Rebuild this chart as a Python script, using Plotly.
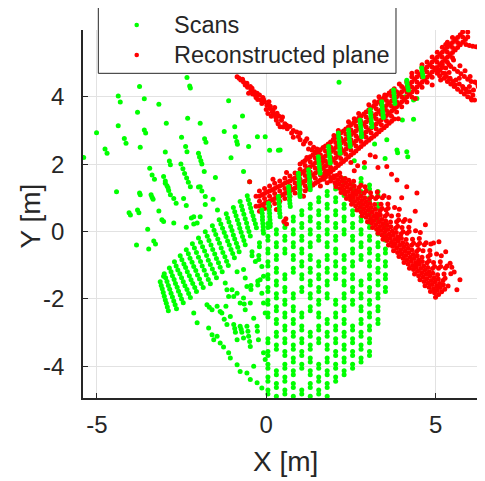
import plotly.graph_objects as go

# ---------------- axis ticks ----------------
X_TICKS = [-5, 0, 5]
X_TICK_TEXT = ["-5", "0", "5"]
Y_TICKS = [-4, -2, 0, 2, 4]
Y_TICK_TEXT = ["-4", "-2", "0", "2", "4"]
X_RANGE = [-5.41, 6.46]
Y_RANGE = [-4.94, 5.98]
LEGEND_LABELS = ["Scans", "Reconstructed plane"]

# ---------------- Scans (green) ----------------
SCAN_SPARSE = [
    (-3.74, 4.30), (-4.37, 4.02), (-4.31, 3.84), (-3.60, 3.94), (-3.17, 3.78), (-3.80, 3.54),
    (-2.26, 4.32), (-2.24, 4.26), (-1.11, 3.88), (-0.70, 3.43), (-2.32, 3.36), (-2.95, 3.21),
    (-1.95, 3.21), (-4.37, 3.14), (-5.01, 2.93), (-3.60, 3.01), (-3.56, 2.92), (-1.24, 2.97),
    (-0.93, 3.11), (-0.91, 2.81), (-0.87, 2.67), (-0.26, 2.81), (-4.19, 2.76), (-4.14, 2.62),
    (-3.72, 2.50), (-2.50, 2.80), (-2.38, 2.52), (-1.82, 2.75), (-1.78, 2.65), (-0.85, 2.59),
    (-0.52, 2.52), (-4.76, 2.45), (-4.70, 2.32), (-2.98, 2.36), (-2.34, 2.37), (0.10, 2.41),
    (0.36, 2.41), (-5.39, 2.20), (-2.00, 2.32), (-1.97, 2.21), (-1.93, 2.10), (-1.90, 2.00),
    (-2.86, 2.09), (-2.83, 1.98), (-1.04, 2.19), (-2.52, 2.00), (-2.46, 1.86), (-2.41, 1.72),
    (-2.35, 1.59), (-2.30, 1.46), (-2.24, 1.33), (-3.44, 1.88), (-3.37, 1.68), (-3.30, 1.55),
    (-3.03, 1.63), (-2.98, 1.50), (-2.93, 1.36), (-2.88, 1.22), (-2.83, 1.09), (-1.83, 1.78),
    (-0.67, 1.78), (-1.50, 1.60), (-2.00, 1.32), (-4.42, 1.18), (-3.74, 1.14), (-3.72, 1.09),
    (-3.40, 1.09), (-3.37, 1.02), (-3.34, 0.96), (-2.73, 0.98), (-2.66, 0.84), (-2.44, 0.98),
    (-2.36, 0.77), (-1.57, 0.96), (-1.80, 0.80), (-4.05, 0.56), (-4.01, 0.49), (-3.80, 0.64),
    (-3.76, 0.56), (-3.17, 0.61), (-3.03, 0.30), (-3.50, 0.07), (-2.73, 0.25), (-2.36, 0.13),
    (-2.14, 0.22), (-2.21, 0.40), (-1.95, 0.44), (-1.44, 0.64), (-3.83, -0.40), (-3.47, -0.52),
    (-3.32, -0.28), (-3.27, -0.37), (-3.03, -1.33), (-2.34, 4.57), (2.15, 4.43), (4.35, 3.90),
    (4.45, 3.95), (4.02, 3.31), (4.35, 3.33), (3.56, 2.72), (3.86, 2.42), (3.88, 2.34),
    (4.15, 2.37), (4.18, 2.22), (3.51, 2.17), (-0.03, 2.81), (0.41, 2.42), (4.10, 4.00),
    (-1.95, 1.33), (-1.90, 1.20), (-1.80, 1.04), (-2.14, 0.44), (-2.04, 0.25), (-3.08, 0.35),
    (-2.98, 1.43), (-2.90, 1.30), (-0.49, 1.48), (2.60, 2.10), (3.20, 2.60), (2.90, 1.90),
]

SCAN_BAND = [
    (-3.13, -1.49), (-3.10, -1.60), (-3.07, -1.70), (-3.04, -1.81), (-3.01, -1.92), (-2.98, -2.03), (-2.95, -2.13), (-2.92, -2.24), (-2.89, -2.35),
    (-3.01, -1.25), (-2.97, -1.37), (-2.93, -1.48), (-2.89, -1.60), (-2.85, -1.71), (-2.81, -1.83), (-2.77, -1.94), (-2.73, -2.06), (-2.69, -2.17), (-2.65, -2.29),
    (-2.86, -1.08), (-2.81, -1.19), (-2.77, -1.31), (-2.72, -1.42), (-2.68, -1.54), (-2.63, -1.65), (-2.59, -1.77), (-2.54, -1.88), (-2.50, -2.00), (-2.45, -2.11),
    (-2.71, -0.90), (-2.66, -1.02), (-2.61, -1.14), (-2.55, -1.25), (-2.50, -1.37), (-2.45, -1.49), (-2.40, -1.61), (-2.34, -1.72), (-2.29, -1.84), (-2.24, -1.96),
    (-2.54, -0.72), (-2.49, -0.84), (-2.43, -0.96), (-2.38, -1.07), (-2.33, -1.19), (-2.27, -1.31), (-2.22, -1.43), (-2.17, -1.54), (-2.11, -1.66), (-2.06, -1.78),
    (-2.36, -0.54), (-2.30, -0.66), (-2.25, -0.79), (-2.19, -0.91), (-2.14, -1.04), (-2.08, -1.16), (-2.03, -1.29), (-1.97, -1.41), (-1.92, -1.54), (-1.86, -1.66),
    (-2.18, -0.36), (-2.12, -0.49), (-2.06, -0.62), (-2.00, -0.76), (-1.94, -0.89), (-1.89, -1.02), (-1.83, -1.15), (-1.77, -1.29), (-1.71, -1.42), (-1.65, -1.55),
    (-2.00, -0.19), (-1.94, -0.32), (-1.88, -0.45), (-1.82, -0.58), (-1.76, -0.71), (-1.71, -0.85), (-1.65, -0.98), (-1.59, -1.11), (-1.53, -1.24), (-1.47, -1.37),
    (-1.80, -0.01), (-1.74, -0.14), (-1.69, -0.27), (-1.63, -0.40), (-1.58, -0.53), (-1.52, -0.67), (-1.47, -0.80), (-1.41, -0.93), (-1.36, -1.06), (-1.30, -1.19),
    (-1.59, 0.17), (-1.54, 0.04), (-1.49, -0.09), (-1.43, -0.22), (-1.38, -0.35), (-1.33, -0.49), (-1.28, -0.62), (-1.22, -0.75), (-1.17, -0.88), (-1.12, -1.01),
    (-1.39, 0.35), (-1.34, 0.22), (-1.29, 0.10), (-1.24, -0.03), (-1.19, -0.15), (-1.14, -0.28), (-1.09, -0.40), (-1.04, -0.53), (-0.99, -0.65), (-0.94, -0.78),
    (-1.18, 0.53), (-1.14, 0.40), (-1.10, 0.28), (-1.05, 0.15), (-1.01, 0.03), (-0.97, -0.10), (-0.93, -0.22), (-0.88, -0.35), (-0.84, -0.47), (-0.80, -0.60),
    (-0.97, 0.71), (-0.93, 0.59), (-0.89, 0.47), (-0.85, 0.34), (-0.81, 0.22), (-0.78, 0.10), (-0.74, -0.02), (-0.70, -0.15), (-0.66, -0.27), (-0.62, -0.39),
    (-0.77, 0.89), (-0.73, 0.76), (-0.70, 0.64), (-0.66, 0.51), (-0.62, 0.38), (-0.58, 0.25), (-0.55, 0.12), (-0.51, 0.00), (-0.47, -0.13),
    (-0.56, 1.06), (-0.53, 0.94), (-0.49, 0.82), (-0.46, 0.70), (-0.43, 0.58), (-0.39, 0.47), (-0.36, 0.35), (-0.32, 0.23), (-0.29, 0.11),
]

SCAN_LOWFAN = [
    (-1.75, -2.17), (-1.60, -2.32), (-1.68, -2.25), (-1.45, -2.22), (-1.36, -2.37), (-1.19, -2.22),
    (-1.31, -2.42), (-1.24, -2.60), (-1.16, -2.76), (-1.06, -2.52), (-0.96, -2.76), (-0.93, -2.88),
    (-0.91, -2.99), (-0.86, -3.21), (-0.77, -2.81), (-0.74, -2.90), (-0.72, -2.99), (-0.67, -3.16),
    (-0.57, -2.81), (-0.54, -2.96), (-0.52, -3.11), (-0.49, -3.26), (-0.47, -3.41), (-0.37, -2.57),
    (-0.27, -2.81), (-0.26, -2.96), (-0.23, -3.21), (-0.86, -1.83), (-0.77, -2.12), (-0.67, -1.97),
    (-0.65, -2.15), (-0.62, -2.32), (-0.47, -2.12), (-0.18, -1.43), (-0.13, -1.83), (-0.08, -2.12),
    (-0.03, -2.42), (-1.21, -1.53), (-1.16, -1.73), (-1.11, -1.93), (-1.01, -1.73), (-0.96, -1.93),
    (-0.86, -1.19), (-0.67, -1.13), (-0.62, -1.38), (-0.57, -1.63), (-0.32, -0.89), (-0.13, -1.04),
    (-0.08, -1.33), (-1.11, -3.60), (-1.06, -3.75), (-0.86, -3.95), (-0.77, -4.15), (-0.57, -4.20),
    (-0.47, -4.39), (-0.37, -4.00), (-0.27, -4.49), (-0.13, -4.64), (-0.08, -3.60), (-0.03, -3.80),
    (-2.14, -2.42), (-2.04, -2.71), (-1.70, -2.86), (-1.60, -3.06), (-1.55, -3.21), (-1.45, -3.11),
    (-1.36, -3.31), (-1.26, -3.43), (-0.20, -0.33), (-0.20, -0.45), (-0.22, -0.71), (-0.22, -0.83),
    (-0.25, -1.47), (-0.25, -1.59), (-0.42, -0.60), (-0.42, -0.72), (-0.45, -1.60), (-0.45, -1.72),
]

FAN_COL_X = [0.05, 0.30, 0.55, 0.80, 1.05, 1.30, 1.55, 1.80, 2.05, 2.30, 2.55, 2.80, 3.05, 3.30, 3.52]
FAN_COL_Y = [
    [0.24, 0.12, -0.14, -0.26, -0.52, -0.64, -0.9, -1.02, -1.28, -1.4, -1.66, -1.78, -2.04, -2.16, -2.42, -2.54, -3.18, -3.3, -3.56, -3.68, -3.94, -4.06, -4.32, -4.44, -4.7, -4.82],
    [0.05, -0.07, -0.33, -0.45, -0.71, -0.83, -1.09, -1.21, -1.47, -1.59, -1.85, -1.97, -2.23, -2.35, -2.61, -2.73, -2.99, -3.11, -3.37, -3.49, -4.13, -4.25, -4.51, -4.63, -4.89],
    [0.24, 0.12, -0.14, -0.26, -0.52, -0.64, -1.28, -1.4, -1.66, -1.78, -2.04, -2.16, -2.42, -2.54, -2.8, -2.92, -3.18, -3.3, -3.56, -3.68, -3.94, -4.06, -4.32, -4.44, -4.7, -4.82],
    [0.43, 0.31, 0.05, -0.07, -0.33, -0.45, -0.71, -0.83, -1.09, -1.21, -1.85, -1.97, -2.23, -2.35, -2.61, -2.73, -2.99, -3.11, -3.37, -3.49, -3.75, -3.87, -4.13, -4.25, -4.51, -4.63, -4.89],
    [0.62, 0.5, 0.24, 0.12, -0.14, -0.26, -0.52, -0.64, -0.9, -1.02, -1.28, -1.4, -1.66, -1.78, -2.42, -2.54, -2.8, -2.92, -3.18, -3.3, -3.56, -3.68, -3.94, -4.06, -4.7, -4.82],
    [0.81, 0.69, 0.43, 0.31, 0.05, -0.07, -0.33, -0.45, -0.71, -0.83, -1.09, -1.21, -1.47, -1.59, -1.85, -1.97, -2.23, -2.35, -2.99, -3.11, -3.37, -3.49, -3.75, -3.87, -4.13, -4.25, -4.51, -4.63, -4.89],
    [1.0, 0.88, 0.62, 0.5, 0.24, 0.12, -0.14, -0.26, -0.9, -1.02, -1.28, -1.4, -1.66, -1.78, -2.04, -2.16, -2.42, -2.54, -2.8, -2.92, -3.18, -3.3, -3.94, -4.06, -4.32, -4.44, -4.7, -4.82],
    [1.19, 1.07, 0.81, 0.69, 0.43, 0.31, 0.05, -0.07, -0.33, -0.45, -0.71, -0.83, -1.09, -1.21, -1.47, -1.59, -1.85, -1.97, -2.61, -2.73, -2.99, -3.11, -3.37, -3.49, -3.75, -3.87, -4.13, -4.25, -4.51, -4.63, -4.89],
    [1.38, 1.26, 1.0, 0.88, 0.62, 0.5, 0.24, 0.12, -0.14, -0.26, -0.52, -0.64, -0.9, -1.02, -1.28, -1.4, -2.04, -2.16, -2.42, -2.54, -2.8, -2.92, -3.18, -3.3, -3.56, -3.68, -3.94, -4.06, -4.32, -4.44],
    [1.57, 1.45, 1.19, 1.07, 0.81, 0.69, 0.43, 0.31, 0.05, -0.07, -0.71, -0.83, -1.09, -1.21, -1.47, -1.59, -1.85, -1.97, -2.23, -2.35, -2.61, -2.73, -2.99, -3.11, -3.37, -3.49, -3.75, -3.87, -4.13, -4.25],
    [1.38, 1.26, 1.0, 0.88, 0.62, 0.5, 0.24, 0.12, -0.14, -0.26, -0.52, -0.64, -0.9, -1.02, -1.28, -1.4, -1.66, -1.78, -2.04, -2.16, -2.8, -2.92, -3.18, -3.3, -3.56, -3.68, -3.94, -4.06],
    [1.57, 1.45, 1.19, 1.07, 0.81, 0.69, 0.43, 0.31, 0.05, -0.07, -0.33, -0.45, -0.71, -0.83, -1.47, -1.59, -1.85, -1.97, -2.23, -2.35, -2.61, -2.73, -2.99, -3.11, -3.37, -3.49, -3.75, -3.87],
    [1.38, 1.26, 1.0, 0.88, 0.62, 0.5, 0.24, 0.12, -0.14, -0.26, -0.52, -0.64, -0.9, -1.02, -1.28, -1.4, -1.66, -1.78, -2.04, -2.16, -2.42, -2.54, -2.8, -2.92, -3.18, -3.3, -3.56, -3.68],
    [1.19, 1.07, 0.81, 0.69, 0.43, 0.31, 0.05, -0.07, -0.33, -0.45, -0.71, -0.83, -1.09, -1.21, -1.47, -1.59, -1.85, -1.97, -2.23, -2.35, -2.61, -2.73],
    [0.24, 0.12, -0.14, -0.26, -0.52, -0.64, -0.9, -1.02, -1.28, -1.4, -1.66, -1.78],
]

SCAN_WALL = [
    (-0.13, 0.64), (-0.12, 0.54), (-0.11, 0.44), (-0.11, 0.34), (-0.10, 0.24), (-0.09, 0.14), (-0.09, 0.04), (-0.08, -0.05),
    (0.07, 0.84), (0.08, 0.74), (0.09, 0.64), (0.10, 0.54), (0.10, 0.44), (0.11, 0.34), (0.12, 0.24), (0.12, 0.15),
    (0.36, 1.04), (0.37, 0.94), (0.38, 0.84), (0.39, 0.74), (0.39, 0.64), (0.40, 0.54), (0.41, 0.44),
    (0.66, 1.33), (0.67, 1.23), (0.68, 1.13), (0.69, 1.03), (0.69, 0.93), (0.70, 0.83), (0.71, 0.74),
    (0.95, 1.73), (0.96, 1.63), (0.97, 1.53), (0.97, 1.43), (0.98, 1.33), (0.99, 1.23), (0.99, 1.13), (1.00, 1.04),
    (1.25, 1.83), (1.26, 1.73), (1.27, 1.63), (1.28, 1.53), (1.28, 1.43), (1.29, 1.33), (1.30, 1.24),
    (1.54, 2.22), (1.55, 2.12), (1.56, 2.02), (1.57, 1.92), (1.58, 1.82), (1.59, 1.73),
    (1.84, 2.52), (1.85, 2.42), (1.86, 2.32), (1.87, 2.22), (1.88, 2.12), (1.89, 2.03),
    (2.13, 2.92), (2.14, 2.82), (2.15, 2.72), (2.16, 2.62), (2.17, 2.52), (2.17, 2.42), (2.18, 2.32),
    (2.43, 3.01), (2.44, 2.91), (2.45, 2.81), (2.46, 2.71), (2.47, 2.61), (2.48, 2.52),
    (2.77, 3.31), (2.78, 3.21), (2.79, 3.11), (2.80, 3.01), (2.81, 2.91), (2.82, 2.81),
    (3.07, 3.61), (3.08, 3.51), (3.09, 3.41), (3.10, 3.31), (3.11, 3.21), (3.12, 3.11),
    (3.41, 3.85), (3.42, 3.75), (3.43, 3.65), (3.44, 3.55), (3.45, 3.45), (3.46, 3.38),
    (3.76, 4.20), (3.77, 4.10), (3.78, 4.00), (3.79, 3.90), (3.80, 3.80),
    (4.15, 4.49), (4.16, 4.39), (4.18, 4.29), (4.20, 4.20),
    (4.59, 4.85), (4.60, 4.76), (4.62, 4.67), (4.63, 4.59),
]

# ---------------- Reconstructed plane (red) ----------------
# wall A sampled in columns x; each list gives the return heights at one offset across the wall
PLANE_A_X = [-0.2, -0.05, 0.1, 0.25, 0.4, 0.55, 0.7, 0.85, 1.0, 1.15, 1.3, 1.45, 1.6, 1.75, 1.9, 2.05, 2.2, 2.35, 2.5, 2.65,
             2.8, 2.95, 3.1, 3.25, 3.4, 3.55, 3.7, 3.85, 4.0, 4.15, 4.3, 4.45, 4.6, 4.75, 4.9, 5.05, 5.2, 5.35, 5.5, 5.65, 5.8, 5.95]
PLANE_A_MID = [0.90, 0.98, 1.05, 1.13, 1.20, 1.28, 1.35, 1.44, 1.55, 1.66, 1.77, 1.88, 1.98, 2.09, 2.21, 2.34, 2.47, 2.59, 2.72, 2.84,
               2.97, 3.10, 3.22, 3.34, 3.47, 3.59, 3.72, 3.85, 4.00, 4.14, 4.29, 4.44, 4.58, 4.73, 4.88, 5.02, 5.17, 5.32, 5.46, 5.61, 5.77, 5.92]
PLANE_A_UPH = [1.05, 1.13, 1.20, 1.28, 1.35, 1.43, 1.50, 1.59, 1.70, 1.81, 1.92, 2.03, 2.13, 2.24, 2.36, 2.49, 2.62, 2.74, 2.87, 2.99,
               3.12, 3.25, 3.37, 3.49, 3.62, 3.74, 3.87, 4.00, 4.15, 4.29, 4.44, 4.59, 4.73, 4.88, 5.03, 5.17, 5.32, 5.47, 5.61, 5.76, 5.92]
PLANE_A_LOWH = [0.75, 0.83, 0.90, 0.98, 1.05, 1.13, 1.20, 1.29, 1.40, 1.51, 1.62, 1.73, 1.83, 1.94, 2.06, 2.19, 2.32, 2.44, 2.57, 2.69,
                2.82, 2.95, 3.07, 3.19, 3.32, 3.44, 3.57, 3.70, 3.85, 3.99, 4.14, 4.29, 4.43, 4.58, 4.73, 4.87, 5.02, 5.17, 5.31, 5.46, 5.62, 5.77]
PLANE_A_UP = [1.20, 1.28, 1.35, 1.43, 1.50, 1.58, 1.65, 1.74, 1.85, 1.96, 2.07, 2.18, 2.28, 2.39, 2.51, 2.64, 2.77, 2.89, 3.02, 3.14,
              3.27, 3.40, 3.52, 3.64, 3.77, 3.89, 4.02, 4.15, 4.30, 4.44, 4.59, 4.74, 4.88, 5.03, 5.18, 5.32, 5.47, 5.62, 5.76]
PLANE_A_LOW = [0.60, 0.68, 0.75, 0.83, 0.90, 0.98, 1.05, 1.14, 1.25, 1.36, 1.47, 1.58, 1.68, 1.79, 1.91, 2.04, 2.17, 2.29, 2.42, 2.54,
               2.67, 2.80, 2.92, 3.04, 3.17, 3.29, 3.42, 3.55, 3.70, 3.84, 3.99, 4.14, 4.28, 4.43, 4.58, 4.72, 4.87, 5.02, 5.16]
# thick middle section of wall A (columns 8..26)
PLANE_A_UPX = [2.00, 2.11, 2.22, 2.33, 2.43, 2.54, 2.66, 2.79, 2.92, 3.04, 3.17, 3.29, 3.42, 3.55, 3.67, 3.79, 3.92, 4.04, 4.17]
PLANE_A_LOWX = [1.10, 1.21, 1.32, 1.43, 1.53, 1.64, 1.76, 1.89, 2.02, 2.14, 2.27, 2.39, 2.52, 2.65, 2.77, 2.89, 3.02, 3.14, 3.27]
PLANE_A_X2 = [-0.12, 0.03, 0.18, 0.33, 0.48, 0.63, 0.78, 0.93, 1.08, 1.23, 1.38, 1.53, 1.68, 1.83, 1.98, 2.13, 2.28, 2.43, 2.58, 2.73,
              2.88, 3.03, 3.18, 3.33, 3.48, 3.63, 3.78, 3.93, 4.08, 4.23, 4.38, 4.53, 4.68, 4.83, 4.98, 5.13, 5.28, 5.43, 5.58, 5.73, 5.88]
PLANE_A_UP2 = [1.09, 1.17, 1.24, 1.32, 1.39, 1.47, 1.55, 1.65, 1.76, 1.87, 1.98, 2.08, 2.19, 2.30, 2.43, 2.56, 2.68, 2.81, 2.93, 3.06,
               3.19, 3.31, 3.43, 3.56, 3.68, 3.81, 3.94, 4.08, 4.22, 4.37, 4.52, 4.66, 4.81, 4.95, 5.10, 5.25, 5.40, 5.54, 5.69, 5.84]
PLANE_A_LOW2 = [0.79, 0.87, 0.94, 1.02, 1.09, 1.17, 1.25, 1.35, 1.46, 1.57, 1.68, 1.78, 1.89, 2.00, 2.13, 2.26, 2.38, 2.51, 2.63, 2.76,
                2.89, 3.01, 3.13, 3.26, 3.38, 3.51, 3.64, 3.78, 3.92, 4.07, 4.22, 4.36, 4.51, 4.65, 4.80, 4.95, 5.10, 5.24, 5.39, 5.54, 5.70]
PLANE_A_OUTER = [
    (1.08, 2.06), (1.23, 2.17), (1.38, 2.28), (1.53, 2.38), (1.68, 2.49), (1.83, 2.60), (1.98, 2.73), (2.13, 2.86), (2.28, 2.98),
    (2.43, 3.11), (2.58, 3.23), (2.73, 3.36), (2.88, 3.49), (3.03, 3.61), (3.18, 3.73), (3.33, 3.86), (3.48, 3.98), (3.63, 4.11),
    (3.78, 4.24), (3.93, 4.38),
    (1.23, 1.27), (1.38, 1.38), (1.53, 1.48), (1.68, 1.59), (1.83, 1.70), (1.98, 1.83), (2.13, 1.96), (2.28, 2.08), (2.43, 2.21),
    (2.58, 2.33), (2.73, 2.46), (2.88, 2.59), (3.03, 2.71), (3.18, 2.83), (3.33, 2.96), (3.48, 3.08), (3.63, 3.21), (3.78, 3.34),
    (2.13, 3.00), (2.43, 3.26), (2.73, 3.50), (3.03, 3.76), (3.33, 4.00),
    (0.20, 1.55), (0.60, 1.75), (1.20, 2.20), (1.50, 2.45), (2.00, 2.85), (2.60, 3.35), (3.20, 3.85), (3.50, 4.05), (4.30, 4.70),
    (4.60, 4.95), (5.30, 5.55), (0.30, 0.65), (1.10, 1.05), (1.60, 1.35), (3.90, 3.35), (4.40, 3.95), (4.90, 4.35), (5.40, 4.95),
    (-0.30, 0.75), (-0.30, 1.05), (-0.49, 1.48), (0.52, 0.30), (0.60, 0.22), (0.58, 0.38),
    (5.90, 5.55), (6.00, 5.52), (6.10, 5.50), (6.20, 5.48),
]

PLANE_C = [
    (5.00, 4.85), (5.10, 4.78), (5.12, 4.62), (5.22, 4.70), (5.25, 4.55), (5.32, 4.60), (5.35, 4.45), (5.42, 4.52),
    (5.45, 4.38), (5.52, 4.45), (5.55, 4.30), (5.60, 4.50), (5.65, 4.22), (5.70, 4.38), (5.75, 4.15), (5.80, 4.30),
    (5.85, 4.08), (5.90, 4.22), (5.95, 4.00), (6.00, 4.15), (6.05, 3.95), (6.10, 4.05), (6.15, 3.90), (6.22, 4.40),
    (6.30, 4.25), (5.45, 4.90), (5.55, 4.82), (5.65, 4.75), (5.75, 4.68), (5.85, 4.60), (5.95, 4.52), (6.05, 4.45),
    (5.20, 4.95), (5.30, 4.85), (5.05, 4.70), (5.15, 4.50), (5.40, 4.72), (5.70, 4.55), (6.00, 4.30), (6.12, 4.20),
    (6.35, 4.22), (6.26, 4.30), (6.16, 4.44), (6.02, 4.60), (5.87, 4.77), (5.72, 4.92), (5.53, 5.09), (5.13, 4.79),
    (5.28, 4.69), (5.43, 4.55), (5.58, 4.35), (5.82, 4.25), (5.92, 4.15), (6.07, 3.90),
]

PLANE_B_UPPER = [
    (-0.86, 4.59), (-0.80, 4.55), (-0.75, 4.50), (-0.67, 4.44), (-0.62, 4.35), (-0.57, 4.40), (-0.55, 4.28), (-0.47, 4.30),
    (-0.45, 4.20), (-0.52, 4.10), (-0.40, 4.08), (-0.35, 4.15), (-0.30, 3.98), (-0.27, 4.10), (-0.25, 3.92), (-0.20, 4.05),
    (-0.15, 3.90), (-0.10, 3.98), (-0.13, 3.80), (-0.05, 3.85), (0.02, 3.75), (0.08, 3.85), (0.10, 3.65), (0.12, 3.72),
    (0.20, 3.60), (0.25, 3.68), (0.32, 3.51), (0.05, 3.50), (0.15, 3.42), (0.22, 3.48), (0.30, 3.30), (0.38, 3.42),
    (0.41, 3.11), (0.35, 3.20), (0.45, 3.30), (0.48, 3.40), (0.50, 3.10), (0.55, 3.20), (0.62, 3.05), (0.70, 3.12),
    (0.80, 3.00), (0.90, 2.95), (1.00, 2.92), (0.80, 2.80), (1.00, 2.72), (1.10, 2.60), (1.20, 2.75), (1.30, 2.62),
    (1.40, 2.50), (1.25, 2.45), (1.45, 2.35), (1.59, 2.22), (1.50, 2.10), (1.65, 2.05), (1.75, 1.95), (1.60, 1.85),
    (1.85, 1.80), (1.90, 1.60), (1.70, 1.70), (2.00, 1.65), (1.75, 1.62), (1.80, 1.45), (1.70, 1.55),
    (-0.70, 4.52), (-0.42, 4.25), (-0.32, 4.05), (-0.08, 3.92), (0.00, 3.62), (0.18, 3.55), (0.28, 3.40), (0.60, 3.15),
    (0.75, 2.92), (0.95, 2.82), (1.15, 2.68), (1.35, 2.42), (1.55, 2.30),
]

PLANE_B_LOWER = [
    (1.90, 1.50), (2.06, 1.33), (2.21, 1.16), (2.37, 0.98), (2.52, 0.81), (2.68, 0.64), (2.83, 0.47), (2.99, 0.29), (3.14, 0.12),
    (3.30, -0.05), (3.45, -0.23), (3.61, -0.40), (3.76, -0.57), (3.92, -0.74), (4.07, -0.92), (4.23, -1.09), (4.38, -1.26),
    (4.54, -1.43), (4.69, -1.61), (4.85, -1.78), (5.00, -1.95),
    (1.99, 1.58), (2.15, 1.41), (2.30, 1.24), (2.46, 1.06), (2.61, 0.89), (2.77, 0.72), (2.92, 0.55), (3.08, 0.37), (3.23, 0.20),
    (3.39, 0.03), (3.54, -0.15), (3.70, -0.32), (3.85, -0.49), (4.01, -0.66), (4.16, -0.84), (4.32, -1.01), (4.47, -1.18),
    (4.63, -1.35), (4.78, -1.53), (4.94, -1.70), (5.09, -1.87),
    (2.08, 1.66), (2.24, 1.49), (2.39, 1.32), (2.55, 1.14), (2.70, 0.97), (2.86, 0.80), (3.01, 0.63), (3.17, 0.45), (3.32, 0.28),
    (3.48, 0.11), (3.63, -0.07), (3.79, -0.24), (3.94, -0.41), (4.10, -0.58), (4.25, -0.76), (4.41, -0.93), (4.56, -1.10),
    (4.72, -1.27), (4.87, -1.45), (5.03, -1.62), (5.18, -1.79),
    (2.17, 1.74), (2.33, 1.57), (2.48, 1.40), (2.64, 1.22), (2.79, 1.05), (2.95, 0.88), (3.10, 0.71), (3.26, 0.53), (3.41, 0.36),
    (3.57, 0.19), (3.72, 0.01), (3.88, -0.16), (4.03, -0.33), (4.19, -0.50), (4.34, -0.68), (4.50, -0.85), (4.65, -1.02),
    (4.81, -1.19), (4.96, -1.37), (5.12, -1.54), (5.27, -1.71),
    (2.03, 1.45), (2.18, 1.28), (2.33, 1.11), (2.49, 0.94), (2.64, 0.76), (2.80, 0.59), (2.95, 0.42), (3.11, 0.25), (3.26, 0.07),
    (3.42, -0.10), (3.57, -0.27), (3.73, -0.44), (3.88, -0.62), (4.04, -0.79), (4.19, -0.96), (4.35, -1.13), (4.50, -1.31),
    (4.66, -1.48), (4.81, -1.65), (4.97, -1.82),
    (2.11, 1.53), (2.26, 1.36), (2.42, 1.19), (2.57, 1.02), (2.73, 0.84), (2.88, 0.67), (3.04, 0.50), (3.19, 0.33), (3.35, 0.15),
    (3.50, -0.02), (3.66, -0.19), (3.81, -0.36), (3.97, -0.54), (4.12, -0.71), (4.28, -0.88), (4.43, -1.05), (4.59, -1.23),
    (4.74, -1.40), (4.90, -1.57), (5.05, -1.74),
    (2.20, 1.61), (2.35, 1.44), (2.51, 1.27), (2.66, 1.10), (2.82, 0.92), (2.97, 0.75), (3.13, 0.58), (3.28, 0.41), (3.44, 0.23),
    (3.59, 0.06), (3.75, -0.11), (3.90, -0.28), (4.06, -0.46), (4.21, -0.63), (4.37, -0.80), (4.52, -0.97), (4.68, -1.15),
    (4.83, -1.32), (4.99, -1.49), (5.14, -1.66),
    (2.44, 1.52), (2.60, 1.35), (2.75, 1.18), (2.91, 1.00), (3.06, 0.83), (3.22, 0.66), (3.37, 0.49), (3.53, 0.31), (3.68, 0.14),
    (3.84, -0.03), (3.99, -0.20), (4.15, -0.38), (4.30, -0.55), (4.46, -0.72), (4.61, -0.89), (4.77, -1.07), (4.92, -1.24),
    (5.08, -1.41), (5.23, -1.58),
    (2.58, 1.49), (2.74, 1.31), (2.89, 1.14), (3.05, 0.97), (3.20, 0.80), (3.36, 0.62), (3.51, 0.45), (3.67, 0.28), (3.82, 0.10),
    (3.98, -0.07), (4.13, -0.24), (4.29, -0.41), (4.44, -0.59), (4.60, -0.76), (4.75, -0.93), (4.91, -1.10), (5.06, -1.28),
    (5.22, -1.45), (5.37, -1.62),
    (2.80, 1.37), (2.95, 1.20), (3.11, 1.03), (3.42, 0.68), (3.57, 0.51), (3.88, 0.16), (4.04, -0.01), (4.35, -0.35),
    (4.50, -0.53), (4.81, -0.87), (4.97, -1.04), (5.28, -1.39),
    (2.92, 1.33), (3.08, 1.15), (3.23, 0.98), (3.39, 0.81), (3.54, 0.64), (3.70, 0.46), (3.85, 0.29), (4.01, 0.12), (4.16, -0.05),
    (4.32, -0.23), (4.47, -0.40), (4.63, -0.57), (4.78, -0.74), (4.94, -0.92), (5.09, -1.09), (5.25, -1.26),
    (3.29, 1.03), (3.60, 0.69), (3.91, 0.34), (4.22, 0.00), (4.53, -0.35), (4.84, -0.69), (5.15, -1.04),
    (3.28, 1.17), (3.59, 0.82), (3.90, 0.48), (4.21, 0.13), (4.52, -0.21), (4.83, -0.56), (5.14, -0.90), (5.45, -1.25),
    (3.43, 1.00), (4.05, 0.30), (4.67, -0.39), (5.29, -1.08),
    (3.48, 1.06), (3.79, 0.71), (4.10, 0.36), (4.41, 0.02), (4.72, -0.33), (5.03, -0.67), (5.34, -1.02),
    (3.62, 1.01), (3.93, 0.66), (4.24, 0.32), (4.55, -0.03), (4.86, -0.37), (5.17, -0.72), (5.48, -1.06),
    (3.07, 2.27), (3.22, 2.22), (3.56, 1.93), (3.86, 1.53), (4.15, 1.33), (4.45, 1.14), (5.43, -0.94), (5.72, -1.43),
    (5.63, -1.73), (4.94, -0.34), (5.30, -0.60), (5.55, -1.20), (4.70, 0.20), (4.40, 0.60), (3.30, 1.90), (3.70, 1.70),
    (4.00, 1.00), (5.10, -0.30), (2.90, 2.05), (2.70, 1.95), (2.50, 2.05), (2.60, 1.80),
]

GREEN = "#00ff00"
RED = "#ff0000"
INK = "#262626"
FONT = "Liberation Sans, Arial, Helvetica, sans-serif"
MSIZE = 5


def unzip(points):
    return [p[0] for p in points], [p[1] for p in points]


scan_x, scan_y = [], []
for pts in (SCAN_SPARSE, SCAN_BAND, SCAN_LOWFAN):
    xs, ys = unzip(pts)
    scan_x += xs
    scan_y += ys
for cx, col in zip(FAN_COL_X, FAN_COL_Y):
    scan_x += [cx] * len(col)
    scan_y += col
wall_x, wall_y = unzip(SCAN_WALL)

plane_x, plane_y = [], []
for ys in (PLANE_A_MID, PLANE_A_UPH, PLANE_A_LOWH, PLANE_A_UP, PLANE_A_LOW):
    plane_x += PLANE_A_X[:len(ys)]
    plane_y += ys
plane_x += PLANE_A_X[8:8 + len(PLANE_A_UPX)]
plane_y += PLANE_A_UPX
plane_x += PLANE_A_X[8:8 + len(PLANE_A_LOWX)]
plane_y += PLANE_A_LOWX
for ys in (PLANE_A_UP2, PLANE_A_LOW2):
    plane_x += PLANE_A_X2[:len(ys)]
    plane_y += ys
for pts in (PLANE_A_OUTER, PLANE_C, PLANE_B_UPPER, PLANE_B_LOWER):
    xs, ys = unzip(pts)
    plane_x += xs
    plane_y += ys

fig = go.Figure()
fig.add_trace(go.Scatter(x=scan_x, y=scan_y, mode="markers", name=LEGEND_LABELS[0], showlegend=False,
                         marker=dict(color=GREEN, size=MSIZE, line=dict(width=0))))
fig.add_trace(go.Scatter(x=plane_x, y=plane_y, mode="markers", name=LEGEND_LABELS[1], showlegend=False,
                         marker=dict(color=RED, size=MSIZE, line=dict(width=0))))
fig.add_trace(go.Scatter(x=wall_x, y=wall_y, mode="markers", name=LEGEND_LABELS[0], showlegend=False,
                         marker=dict(color=GREEN, size=MSIZE, line=dict(width=0))))

axis_common = dict(
    showgrid=True, gridcolor="#e2e2e2", gridwidth=1,
    showline=True, linecolor=INK, linewidth=1.5, mirror=False,
    ticks="inside", ticklen=5, tickwidth=1, tickcolor=INK,
    zeroline=False, automargin=False,
    tickfont=dict(family=FONT, size=24, color=INK),
)

# page body adds an 8 px margin, so the figure is 8 px smaller and margins shifted
fig.update_layout(
    width=477, height=473,
    margin=dict(l=75, r=0, t=22, b=83, pad=0),
    paper_bgcolor="white", plot_bgcolor="white",
    font=dict(family=FONT, color=INK),
    xaxis=dict(range=X_RANGE, tickvals=X_TICKS, ticktext=X_TICK_TEXT, ticklabelstandoff=4, **axis_common),
    yaxis=dict(range=Y_RANGE, tickvals=Y_TICKS, ticktext=Y_TICK_TEXT, ticklabelstandoff=12, **axis_common),
    showlegend=False,
)

fig.add_annotation(text="X [m]", xref="paper", yref="paper", x=0.5025, y=-0.1739,
                   xanchor="center", yanchor="middle", showarrow=False,
                   font=dict(family=FONT, size=28, color=INK))
fig.add_annotation(text="Y [m]", xref="paper", yref="paper", x=-0.1318, y=0.4932,
                   xanchor="center", yanchor="middle", showarrow=False, textangle=-90,
                   font=dict(family=FONT, size=28, color=INK))

fig.add_shape(type="rect", xref="paper", yref="paper", x0=0.0381, x1=0.7786, y0=0.8823, y1=1.0617,
              line=dict(color=INK, width=1), fillcolor="white", layer="above")
for (ly, col, label) in ((1.0136, GREEN, LEGEND_LABELS[0]), (0.9321, RED, LEGEND_LABELS[1])):
    fig.add_shape(type="circle", xref="paper", yref="paper",
                  x0=0.1336 - 0.0057, x1=0.1336 + 0.0057, y0=ly - 0.0062, y1=ly + 0.0062,
                  line=dict(width=0), fillcolor=col, layer="above")
    fig.add_annotation(text=label, xref="paper", yref="paper", x=0.2206, y=ly,
                       xanchor="left", yanchor="middle", showarrow=False,
                       font=dict(family=FONT, size=23.5, color=INK))

fig.write_html("out.html")
